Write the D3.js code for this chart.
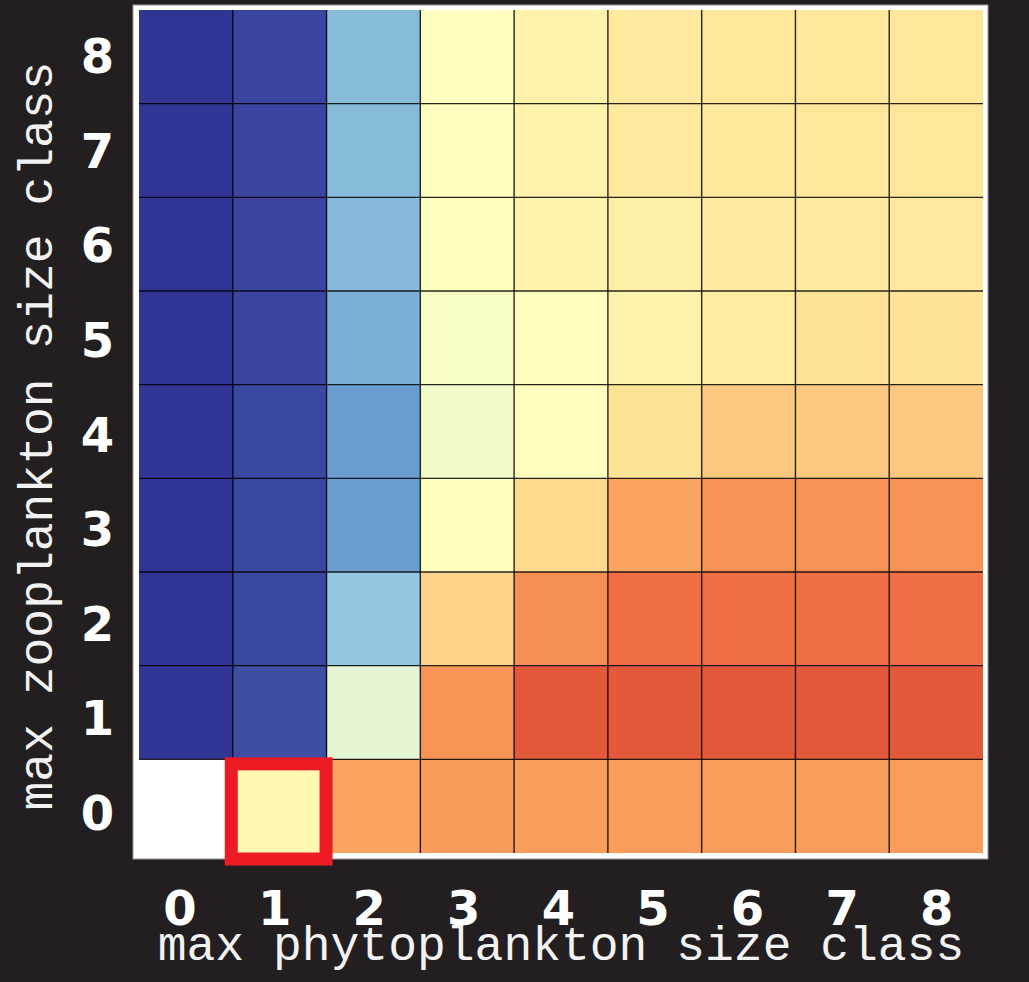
<!DOCTYPE html>
<html>
<head>
<meta charset="utf-8">
<script src="https://cdn.jsdelivr.net/npm/d3@7/dist/d3.min.js"></script>
<style>
  html, body { margin: 0; padding: 0; background: #231f20; }
  svg { display: block; }
</style>
</head>
<body>
<script>
// Size classes on both axes
const phytoClasses = [0, 1, 2, 3, 4, 5, 6, 7, 8];
const zooClasses = [0, 1, 2, 3, 4, 5, 6, 7, 8];

// Relative value per cell: one array per zooplankton class (row), indexed by phytoplankton class.
// null = no value for that combination.
const row0 = [null, 0.535, 0.735, 0.757, 0.75, 0.75, 0.75, 0.75, 0.75];
const row1 = [0, 0.046, 0.40, 0.77, 0.90, 0.90, 0.90, 0.90, 0.90];
const row2 = [0, 0.035, 0.30, 0.64, 0.78, 0.85, 0.85, 0.85, 0.85];
const row3 = [0, 0.035, 0.20, 0.50, 0.63, 0.736, 0.775, 0.775, 0.775];
const row4 = [0, 0.035, 0.20, 0.45, 0.50, 0.61, 0.665, 0.665, 0.665];
const row5 = [0, 0.03, 0.245, 0.48, 0.50, 0.55, 0.58, 0.61, 0.61];
const row6 = [0, 0.03, 0.27, 0.50, 0.55, 0.565, 0.585, 0.585, 0.59];
const row7 = [0, 0.03, 0.274, 0.50, 0.55, 0.59, 0.595, 0.60, 0.60];
const row8 = [0, 0.03, 0.274, 0.50, 0.55, 0.59, 0.60, 0.60, 0.60];
const rows = [row0, row1, row2, row3, row4, row5, row6, row7, row8];

// Highlighted cell (phyto class, zoo class)
const highlight = { phyto: 1, zoo: 0 };

// Diverging palette stops (value -> colour)
const paletteStops = [0, 0.2, 0.3, 0.4, 0.5, 0.6, 0.75, 0.85, 0.9];
const paletteColors = ["#313695", "#699dd0", "#92c5de", "#e5f4d3", "#ffffbf",
                       "#fee79a", "#f99d5a", "#ef6e44", "#e5593b"];

const xTitle = "max phytoplankton size class";
const yTitle = "max zooplankton size class";

const W = 1029, H = 982;
const grid = { left: 139, right: 983, top: 10, bottom: 853 };

const svg = d3.select("body").append("svg")
  .attr("width", W).attr("height", H);

svg.append("rect").attr("width", W).attr("height", H).attr("fill", "#231f20");

const x = d3.scaleBand().domain(phytoClasses).range([grid.left, grid.right]);
const y = d3.scaleBand().domain(zooClasses).range([grid.bottom, grid.top]);
const color = d3.scaleLinear().domain(paletteStops).range(paletteColors)
  .interpolate(d3.interpolateRgb).clamp(true);

// White plot frame
svg.append("rect")
  .attr("x", grid.left - 6).attr("y", grid.top - 5)
  .attr("width", grid.right - grid.left + 11)
  .attr("height", grid.bottom - grid.top + 11)
  .attr("fill", "#ffffff")
  .attr("stroke", "#9a9a9a").attr("stroke-width", 1);

// Cells
const cells = [];
zooClasses.forEach((z, zi) => {
  phytoClasses.forEach((p, pi) => {
    const v = rows[zi][pi];
    if (v !== null) cells.push({ p, z, v });
  });
});

svg.append("g").selectAll("rect").data(cells).join("rect")
  .attr("x", d => x(d.p))
  .attr("y", d => y(d.z))
  .attr("width", x.bandwidth())
  .attr("height", y.bandwidth())
  .attr("fill", d => color(d.v))
  .attr("shape-rendering", "crispEdges");

// Interior cell borders
const gridLines = svg.append("g")
  .attr("stroke", "#000").attr("stroke-opacity", 0.85).attr("stroke-width", 1.4);
phytoClasses.slice(1).forEach(p => {
  gridLines.append("line")
    .attr("x1", x(p)).attr("x2", x(p))
    .attr("y1", grid.top).attr("y2", grid.bottom);
});
zooClasses.slice(1).forEach(z => {
  gridLines.append("line")
    .attr("x1", grid.left).attr("x2", grid.right)
    .attr("y1", y(z) + y.bandwidth()).attr("y2", y(z) + y.bandwidth());
});

// Highlight box
svg.append("rect")
  .attr("x", x(highlight.phyto) - 1.5)
  .attr("y", y(highlight.zoo) + 4.5)
  .attr("width", x.bandwidth() + 1)
  .attr("height", y.bandwidth() + 1.5)
  .attr("fill", "none")
  .attr("stroke", "#ed1c24")
  .attr("stroke-width", 13);

// Tick labels
const xl = d3.scalePoint().domain(phytoClasses).range([180, 936.7]);
const yl = d3.scalePoint().domain(zooClasses).range([812.5, 55.5]);

svg.append("g").selectAll("text").data(phytoClasses).join("text")
  .attr("x", d => xl(d)).attr("y", 925)
  .attr("text-anchor", "middle")
  .attr("font-family", "DejaVu Sans, sans-serif")
  .attr("font-weight", "bold").attr("font-size", 48)
  .attr("fill", "#ffffff")
  .text(d => d);

svg.append("g").selectAll("text").data(zooClasses).join("text")
  .attr("x", 97.5).attr("y", d => yl(d) + 17.5)
  .attr("text-anchor", "middle")
  .attr("font-family", "DejaVu Sans, sans-serif")
  .attr("font-weight", "bold").attr("font-size", 48)
  .attr("fill", "#ffffff")
  .text(d => d);

// Axis titles
svg.append("text")
  .attr("x", (grid.left + grid.right) / 2).attr("y", 960)
  .attr("text-anchor", "middle")
  .attr("font-family", "Liberation Mono, monospace")
  .attr("font-size", 48)
  .attr("fill", "#f2f2f2")
  .text(xTitle);

svg.append("text")
  .attr("transform", "translate(52,436) rotate(-90)")
  .attr("text-anchor", "middle")
  .attr("font-family", "Liberation Mono, monospace")
  .attr("font-size", 48)
  .attr("fill", "#f2f2f2")
  .text(yTitle);
</script>
</body>
</html>
